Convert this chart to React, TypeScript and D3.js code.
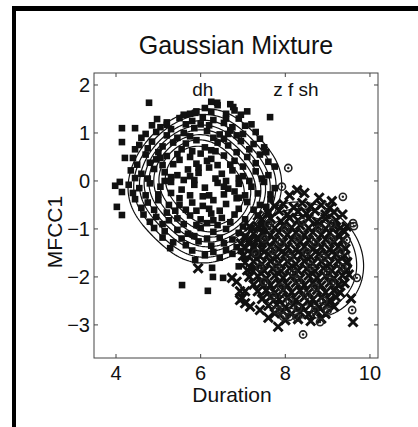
import React from "react";
import * as d3 from "d3";

const xTicks = [4, 6, 8, 10];
const yTicks = [2, 1, 0, -1, -2, -3];
const classLabels = [
  { text: "dh", at: 6.05 },
  { text: "z f sh", at: 8.25 },
];

// "dh" tokens (filled squares)
const dhPoints: [number, number][] = [
  [6.1, 1.52], [6.4, 1.58], [6.8, 1.47], [5.6, 1.38], [7.1, 1.45], [6.6, 1.4], [5.9, 1.45],
  [5.2, 1.22], [5.5, 1.31], [5.8, 1.25], [6.05, 1.33], [6.3, 1.27], [6.55, 1.21], [6.9, 1.3], [7.2, 1.18], [5.05, 1.12], [6.75, 1.12],
  [4.7, 0.98], [4.95, 1.02], [5.3, 1.08], [5.6, 1.0], [5.85, 1.1], [6.15, 1.04], [6.45, 0.97], [6.7, 1.05], [7.0, 0.98], [7.3, 1.02], [5.45, 0.9], [6.3, 0.9],
  [4.55, 0.75], [4.85, 0.82], [5.1, 0.72], [5.35, 0.8], [5.65, 0.78], [5.9, 0.85], [6.1, 0.7], [6.4, 0.8], [6.65, 0.74], [6.95, 0.83], [7.25, 0.77], [7.5, 0.7], [5.0, 0.6], [5.8, 0.62],
  [4.4, 0.48], [4.7, 0.55], [4.95, 0.45], [5.2, 0.52], [5.5, 0.44], [5.75, 0.5], [6.0, 0.57], [6.25, 0.46], [6.55, 0.53], [6.8, 0.42], [7.1, 0.5], [7.4, 0.55], [7.6, 0.4], [5.35, 0.35], [6.4, 0.33],
  [4.35, 0.22], [4.6, 0.15], [4.9, 0.25], [5.15, 0.18], [5.45, 0.12], [5.7, 0.24], [5.95, 0.17], [6.2, 0.28], [6.5, 0.15], [6.75, 0.22], [7.0, 0.1], [7.3, 0.2], [7.6, 0.12], [5.6, 0.02], [6.35, 0.05],
  [4.3, -0.08], [4.55, -0.15], [4.8, -0.05], [5.05, -0.12], [5.3, -0.02], [5.55, -0.18], [5.85, -0.08], [6.1, -0.14], [6.4, -0.04], [6.65, -0.16], [6.9, -0.06], [7.2, -0.12], [7.5, -0.02], [7.75, -0.15], [5.0, -0.28], [6.2, -0.3],
  [4.45, -0.38], [4.75, -0.45], [5.0, -0.4], [5.25, -0.5], [5.5, -0.36], [5.8, -0.45], [6.05, -0.52], [6.3, -0.4], [6.6, -0.48], [6.85, -0.36], [7.1, -0.44], [7.4, -0.5], [7.65, -0.38], [5.65, -0.6], [6.45, -0.62],
  [4.65, -0.7], [4.95, -0.75], [5.2, -0.66], [5.45, -0.78], [5.75, -0.72], [6.0, -0.8], [6.25, -0.68], [6.5, -0.77], [6.8, -0.7], [7.05, -0.8], [7.35, -0.72], [7.6, -0.66], [5.6, -0.9], [6.4, -0.92],
  [4.9, -0.98], [5.15, -1.05], [5.45, -1.02], [5.7, -1.1], [6.0, -0.98], [6.3, -1.06], [6.6, -1.0], [6.9, -1.08], [7.2, -0.98], [7.5, -1.05],
  [5.35, -1.28], [5.65, -1.34], [5.95, -1.26], [6.25, -1.35], [6.55, -1.3], [6.85, -1.38], [7.15, -1.28], [7.45, -1.32],
  [6.1, -1.55], [6.45, -1.6], [6.75, -1.52], [7.05, -1.62], [7.35, -1.55], [6.9, -1.78], [7.2, -1.82],
  [5.75, 1.4], [6.25, 1.44], [6.95, 1.38],
  [4.85, 1.16], [5.65, 1.18], [6.2, 1.16], [6.6, 1.3], [7.05, 1.15],
  [4.6, 0.9], [5.2, 0.95], [5.75, 0.93], [6.55, 0.88], [6.85, 0.95], [7.4, 0.88],
  [4.45, 0.66], [4.75, 0.68], [5.55, 0.66], [6.25, 0.64], [6.85, 0.6], [7.15, 0.66], [7.55, 0.6],
  [4.5, 0.34], [4.8, 0.38], [5.1, 0.33], [5.9, 0.36], [6.7, 0.34], [7.0, 0.3], [7.3, 0.37], [7.75, 0.3],
  [4.45, 0.06], [4.75, 0.05], [5.3, 0.08], [5.85, 0.02], [6.6, 0.0], [6.9, 0.06], [7.15, 0.0], [7.45, 0.05],
  [4.4, -0.25], [4.7, -0.3], [5.3, -0.25], [5.75, -0.3], [6.55, -0.28], [6.8, -0.22], [7.05, -0.3], [7.35, -0.26], [7.65, -0.28],
  [4.6, -0.56], [4.9, -0.6], [5.4, -0.62], [6.2, -0.58], [6.9, -0.58], [7.25, -0.6], [7.55, -0.54],
  [4.8, -0.85], [5.1, -0.9], [5.9, -0.92], [6.15, -0.88], [6.7, -0.86], [7.0, -0.95], [7.45, -0.9],
  [5.1, -1.18], [5.55, -1.2], [5.85, -1.15], [6.15, -1.2], [6.45, -1.18], [6.75, -1.22], [7.05, -1.16], [7.35, -1.2],
  [5.8, -1.45], [6.3, -1.48], [6.6, -1.44], [6.95, -1.46], [7.25, -1.42],
  [5.95, 0.28], [6.05, -0.32], [5.45, 0.56], [6.35, 0.62], [5.25, -0.82], [6.65, 0.98], [5.9, -0.62], [6.55, -0.12],
  [5.15, 0.0], [6.0, 1.18], [5.5, -0.5], [6.9, -0.35], [5.75, 0.1], [6.3, -0.82], [5.05, 0.48], [6.15, 0.42],
  [4.78, 1.63], [4.97, 1.29], [4.14, 1.1], [4.45, 1.1], [4.14, 0.81], [4.21, 0.48], [4.09, -0.02], [3.98, -0.1],
  [4.14, -0.23], [4.02, -0.54], [4.14, -0.71], [5.2, 1.17], [6.39, 1.63], [6.77, 1.54], [5.87, 1.42], [7.64, 1.33],
  [5.28, -1.4], [5.87, -1.65], [6.27, -1.81], [6.29, -2.0], [5.56, -2.17], [6.17, -2.29], [6.53, -2.02], [6.25, 1.65], [6.7, 1.6],
];

// "z f sh" tokens drawn as crosses
const zfshCross: [number, number][] = [
  [8.1, -0.3], [8.45, -0.25], [8.8, -0.35], [9.1, -0.42],
  [7.75, -0.52], [7.95, -0.48], [8.2, -0.55], [8.4, -0.46], [8.6, -0.53], [8.85, -0.5], [9.05, -0.56],
  [7.6, -0.66], [7.85, -0.62], [8.05, -0.7], [8.3, -0.64], [8.5, -0.68], [8.7, -0.62], [8.95, -0.7], [9.15, -0.65],
  [7.45, -0.8], [7.65, -0.78], [7.9, -0.84], [8.1, -0.77], [8.3, -0.82], [8.55, -0.78], [8.75, -0.85], [8.95, -0.79], [9.2, -0.82],
  [7.35, -0.95], [7.55, -0.92], [7.75, -0.98], [7.95, -0.93], [8.15, -0.97], [8.35, -0.92], [8.55, -0.98], [8.75, -0.94], [8.95, -0.99], [9.15, -0.93], [9.3, -0.98],
  [7.25, -1.1], [7.45, -1.08], [7.65, -1.13], [7.85, -1.07], [8.05, -1.12], [8.25, -1.08], [8.45, -1.13], [8.65, -1.07], [8.85, -1.12], [9.05, -1.08], [9.25, -1.12], [9.4, -1.06],
  [7.15, -1.26], [7.35, -1.22], [7.55, -1.27], [7.75, -1.23], [7.95, -1.28], [8.15, -1.22], [8.35, -1.27], [8.55, -1.23], [8.75, -1.28], [8.95, -1.22], [9.15, -1.27], [9.35, -1.23],
  [7.05, -1.4], [7.25, -1.38], [7.45, -1.43], [7.65, -1.37], [7.85, -1.42], [8.05, -1.38], [8.25, -1.43], [8.45, -1.37], [8.65, -1.42], [8.85, -1.38], [9.05, -1.43], [9.25, -1.37], [9.42, -1.41],
  [7.0, -1.56], [7.2, -1.52], [7.4, -1.57], [7.6, -1.53], [7.8, -1.58], [8.0, -1.52], [8.2, -1.57], [8.4, -1.53], [8.6, -1.58], [8.8, -1.52], [9.0, -1.57], [9.2, -1.53], [9.4, -1.56],
  [7.05, -1.7], [7.25, -1.68], [7.45, -1.73], [7.65, -1.67], [7.85, -1.72], [8.05, -1.68], [8.25, -1.73], [8.45, -1.67], [8.65, -1.72], [8.85, -1.68], [9.05, -1.73], [9.25, -1.67], [9.45, -1.71],
  [7.1, -1.86], [7.3, -1.82], [7.5, -1.87], [7.7, -1.83], [7.9, -1.88], [8.1, -1.82], [8.3, -1.87], [8.5, -1.83], [8.7, -1.88], [8.9, -1.82], [9.1, -1.87], [9.3, -1.83], [9.45, -1.86],
  [7.15, -2.0], [7.35, -1.98], [7.55, -2.03], [7.75, -1.97], [7.95, -2.02], [8.15, -1.98], [8.35, -2.03], [8.55, -1.97], [8.75, -2.02], [8.95, -1.98], [9.15, -2.03], [9.35, -1.97],
  [7.25, -2.16], [7.45, -2.12], [7.65, -2.17], [7.85, -2.13], [8.05, -2.18], [8.25, -2.12], [8.45, -2.17], [8.65, -2.13], [8.85, -2.18], [9.05, -2.12], [9.25, -2.17], [9.4, -2.13],
  [7.35, -2.3], [7.55, -2.28], [7.75, -2.33], [7.95, -2.27], [8.15, -2.32], [8.35, -2.28], [8.55, -2.33], [8.75, -2.27], [8.95, -2.32], [9.15, -2.28], [9.3, -2.33],
  [7.45, -2.46], [7.65, -2.42], [7.85, -2.47], [8.05, -2.43], [8.25, -2.48], [8.45, -2.42], [8.65, -2.47], [8.85, -2.43], [9.05, -2.48], [9.2, -2.42],
  [7.6, -2.6], [7.8, -2.58], [8.0, -2.63], [8.2, -2.57], [8.4, -2.62], [8.6, -2.58], [8.8, -2.63], [9.0, -2.57], [9.15, -2.62],
  [7.75, -2.76], [7.95, -2.72], [8.15, -2.77], [8.35, -2.73], [8.55, -2.78], [8.75, -2.72], [8.95, -2.77],
  [8.0, -2.9], [8.3, -2.88], [8.6, -2.92], [8.85, -2.87],
  [7.35, -0.72], [7.15, -0.95], [7.05, -1.15], [6.95, -1.3], [9.35, -0.7], [9.45, -0.95],
  [9.6, -2.94], [7.83, -3.04], [7.6, -2.85], [6.93, -2.48], [7.17, -2.62], [7.05, -2.55], [6.74, -2.02], [5.94, -1.82],
  [8.28, -0.19], [9.55, -2.45], [9.5, -1.95], [6.98, -2.44], [7.4, -2.69], [6.93, -2.3], [6.85, -2.1], [7.05, -2.3], [9.46, -1.69],
];

// "z f sh" tokens drawn as circled dots
const zfshCircle: [number, number][] = [
  [7.6, -0.9], [8.0, -1.0], [8.4, -0.85], [8.8, -1.0], [9.1, -0.9], [7.5, -1.2], [7.9, -1.3], [8.3, -1.18], [8.7, -1.3], [9.1, -1.2],
  [7.3, -1.5], [7.7, -1.45], [8.1, -1.6], [8.5, -1.48], [8.9, -1.6], [9.3, -1.48], [7.4, -1.8], [7.8, -1.78], [8.2, -1.92], [8.6, -1.78],
  [9.0, -1.92], [9.35, -1.8], [7.5, -2.1], [7.9, -2.22], [8.3, -2.08], [8.7, -2.22], [9.1, -2.1], [7.7, -2.4], [8.1, -2.5], [8.5, -2.38],
  [8.9, -2.5], [7.9, -2.68], [8.3, -2.65], [8.7, -2.7], [9.0, -2.7],
  [9.69, -2.02], [9.58, -2.69], [8.42, -3.2], [7.95, -2.83], [7.8, -2.69], [8.82, -2.94], [8.28, -2.85], [8.07, 0.27],
  [7.92, -0.12], [9.36, -0.33], [9.62, -0.94], [9.45, -1.23], [8.1, -2.83], [9.6, -0.88],
];

// mixture model per class: [meanX, meanY, sdX, sdY, rho]
const dhComponents = [
  [5.52, 0.41, 0.77, 0.68, 0.43],
  [6.1, -0.1, 0.77, 0.68, 0.43],
  [6.68, -0.62, 0.77, 0.68, 0.43],
];
const dhLevels = [0.31, 0.41, 0.53, 0.64, 0.76, 0.89, 1.03, 1.2];
const zfshComponents = [[8.45, -1.65, 0.6, 0.52, -0.1]];
const zfshLevels = [0.066, 0.12, 0.2];

const W = 418;
const H = 427;
const left = 94;
const right = 378;
const top = 73;
const bottom = 358;
const font = "'Liberation Sans', Arial, Helvetica, sans-serif";

const x = d3.scaleLinear().domain([3.48, 10.19]).range([left, right]);
const y = d3.scaleLinear().domain([-3.69, 2.25]).range([bottom, top]);

const step = 2;
const nx = Math.ceil((right - left) / step);
const ny = Math.ceil((bottom - top) / step);

function density(comps: number[][], px: number, py: number) {
  let s = 0;
  for (const [mx, my, sx, sy, r] of comps) {
    const zx = (px - mx) / sx;
    const zy = (py - my) / sy;
    s += Math.exp(-0.5 * (zx * zx - 2 * r * zx * zy + zy * zy) / (1 - r * r));
  }
  return s;
}

function contourPaths(comps: number[][], levels: number[]) {
  const values = new Array(nx * ny);
  for (let j = 0; j < ny; j++) {
    for (let i = 0; i < nx; i++) {
      values[j * nx + i] = density(
        comps,
        x.invert(left + (i + 0.5) * step),
        y.invert(top + (j + 0.5) * step)
      );
    }
  }
  const cs = d3.contours().size([nx, ny]).thresholds(levels)(values);
  const path = d3.geoPath(d3.geoIdentity().scale(step).translate([left, top]));
  return cs.map((c) => path(c) || "");
}

const App = () => {
  const dhPaths = contourPaths(dhComponents, dhLevels);
  const zPaths = contourPaths(zfshComponents, zfshLevels);
  const s = 4.5;

  return (
    <div style={{ position: "absolute", left: 0, top: 0 }}>
      <svg width={W} height={H} style={{ display: "block", background: "#fff" }}>
        <rect x={12} y={6} width={W - 12} height={5} fill="#000" />
        <rect x={12} y={6} width={4} height={H - 6} fill="#000" />

        <text x={236} y={54} textAnchor="middle" fontFamily={font} fontSize={25} fill="#111">
          Gaussian Mixture
        </text>

        <clipPath id="plot">
          <rect x={left} y={top} width={right - left} height={bottom - top} />
        </clipPath>

        <g clipPath="url(#plot)">
          {dhPaths.map((d, i) => (
            <path key={"dc" + i} d={d} fill="none" stroke="#111" strokeWidth={1.2} />
          ))}
          {zPaths.map((d, i) => (
            <path key={"zc" + i} d={d} fill="none" stroke="#111" strokeWidth={1.2} />
          ))}
          {dhPoints.map(([a, b], i) => (
            <rect key={"d" + i} x={x(a) - 3.3} y={y(b) - 3.3} width={6.6} height={6.6} fill="#111" />
          ))}
          {zfshCross.map(([a, b], i) => (
            <path
              key={"z" + i}
              d={`M${x(a) - s},${y(b) - s}L${x(a) + s},${y(b) + s}M${x(a) - s},${y(b) + s}L${x(a) + s},${y(b) - s}`}
              stroke="#111"
              strokeWidth={3}
            />
          ))}
          {zfshCircle.map(([a, b], i) => (
            <g key={"c" + i}>
              <circle cx={x(a)} cy={y(b)} r={3.6} fill="none" stroke="#222" strokeWidth={1.6} />
              <circle cx={x(a)} cy={y(b)} r={1.2} fill="#222" />
            </g>
          ))}
        </g>

        {classLabels.map((l) => (
          <text key={l.text} x={x(l.at)} y={96} textAnchor="middle" fontFamily={font} fontSize={19} fill="#111">
            {l.text}
          </text>
        ))}

        <rect x={left} y={top} width={right - left} height={bottom - top} fill="none" stroke="#444" strokeWidth={1} />
        {xTicks.map((t) => (
          <g key={"xt" + t}>
            <line x1={x(t)} x2={x(t)} y1={bottom} y2={bottom - 4} stroke="#444" />
            <line x1={x(t)} x2={x(t)} y1={top} y2={top + 4} stroke="#444" />
            <text x={x(t)} y={380} textAnchor="middle" fontFamily={font} fontSize={20} fill="#111">
              {t}
            </text>
          </g>
        ))}
        {yTicks.map((t) => (
          <g key={"yt" + t}>
            <line x1={left} x2={left + 4} y1={y(t)} y2={y(t)} stroke="#444" />
            <line x1={right} x2={right - 4} y1={y(t)} y2={y(t)} stroke="#444" />
            <text x={90} y={y(t) + 7} textAnchor="end" fontFamily={font} fontSize={20} fill="#111">
              {t < 0 ? "\u2212" + Math.abs(t) : t}
            </text>
          </g>
        ))}

        <text x={232} y={402} textAnchor="middle" fontFamily={font} fontSize={21} fill="#111">
          Duration
        </text>
        <text
          transform="translate(62,232) rotate(-90)"
          textAnchor="middle"
          fontFamily={font}
          fontSize={21}
          fill="#111"
        >
          MFCC1
        </text>
      </svg>
    </div>
  );
};

export default App;
